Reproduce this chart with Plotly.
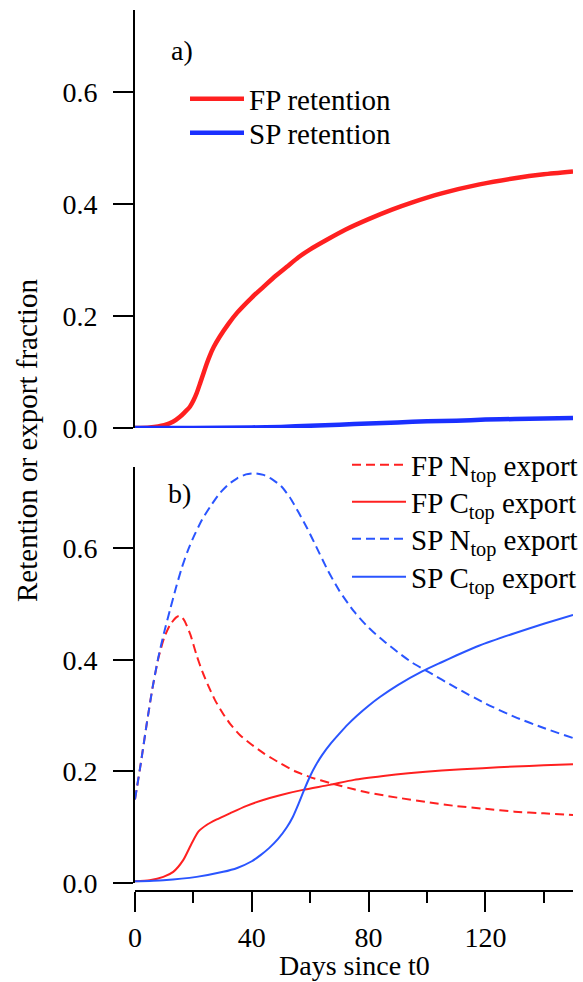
import plotly.graph_objects as go

# ---------------- data ----------------
# panel a) retention
fp_ret_days = [0, 5, 10, 13, 15.4, 17, 18.8, 20, 21.1, 22.3, 23.4, 24.5, 25.6, 27, 29, 32, 35, 40, 44,
               48, 52, 56, 60, 66, 72, 80, 88, 95, 105, 118, 130, 140, 150]
fp_retention = [0, 0.001, 0.005, 0.011, 0.02, 0.028, 0.038, 0.049, 0.062, 0.08, 0.097, 0.114, 0.129,
                0.145, 0.163, 0.186, 0.206, 0.233, 0.252, 0.271, 0.288, 0.305, 0.319, 0.337, 0.354,
                0.373, 0.39, 0.403, 0.419, 0.435, 0.446, 0.453, 0.458]

sp_ret_days = [0, 20, 40, 50, 60, 70, 80, 90, 100, 110, 120, 130, 140, 150]
sp_retention = [0, 0, 0.001, 0.002, 0.004, 0.006, 0.008, 0.010, 0.012, 0.013, 0.015, 0.016, 0.017, 0.018]

# panel b) export
fp_n_days = [0, 2, 4, 6, 8, 10, 12, 14, 15, 16, 17, 19, 21, 23, 25, 27.4, 30, 32.5, 36, 40, 44,
             50, 55, 60, 67, 75, 80, 90, 100, 110, 120, 130, 140, 150]
fp_n_export = [0.15, 0.215, 0.285, 0.35, 0.403, 0.44, 0.463, 0.476, 0.479, 0.477, 0.47,
               0.445, 0.41, 0.38, 0.355, 0.328, 0.305, 0.286, 0.265, 0.248, 0.233, 0.214, 0.2, 0.19, 0.179,
               0.168, 0.162, 0.153, 0.145, 0.138, 0.133, 0.128, 0.125, 0.122]

fp_c_days = [0, 5, 9.7, 13.1, 16.5, 19.4, 21.7, 24.5, 28, 32.5, 38, 43.9, 50, 57.5, 66.7, 75, 85, 93.6,
             105, 119, 130, 140, 150]
fp_c_export = [0.003, 0.005, 0.011, 0.02, 0.041, 0.071, 0.092, 0.104, 0.114, 0.125, 0.138, 0.149, 0.158,
               0.167, 0.176, 0.185, 0.192, 0.197, 0.202, 0.206, 0.209, 0.211, 0.213]

sp_n_days = [0, 2, 4, 6, 8, 10, 12, 14, 16, 18, 20, 23, 26, 29, 32, 35, 38, 41, 44, 47, 50, 53,
             56, 59, 62, 66, 70, 75, 80, 85, 90, 95, 100, 110, 120, 130, 140, 150]
sp_n_export = [0.15, 0.215, 0.285, 0.35, 0.405, 0.45, 0.49, 0.529, 0.565, 0.595, 0.62,
               0.652, 0.677, 0.699, 0.715, 0.726, 0.733, 0.735, 0.732, 0.724, 0.712, 0.692, 0.665,
               0.636, 0.604, 0.561, 0.524, 0.487, 0.458, 0.435, 0.414, 0.395, 0.38, 0.35, 0.322,
               0.298, 0.278, 0.26]

sp_c_days = [0, 9.7, 21.1, 30.2, 35, 40, 43, 46, 49, 52, 54, 56, 58, 60, 62, 64, 67, 70, 73, 76, 80,
             84, 90, 98.5, 105, 110, 118, 130, 140, 150]
sp_c_export = [0.003, 0.005, 0.011, 0.02, 0.027, 0.039, 0.05, 0.063, 0.079, 0.1, 0.118, 0.142, 0.168,
               0.192, 0.212, 0.229, 0.25, 0.268, 0.285, 0.3, 0.318, 0.334, 0.355, 0.38, 0.396, 0.408,
               0.426, 0.448, 0.465, 0.481]

x_ticks = [0, 40, 80, 120]
x_minor_ticks = [20, 60, 100, 140]
y_ticks = [0, 0.2, 0.4, 0.6]
y_ticklabels = ["0.0", "0.2", "0.4", "0.6"]

RED = "#ff2020"
BLUE_A = "#1a30ff"
BLUE_B = "#2a55ff"
FONT = "Liberation Serif, Times New Roman, serif"
FS = 28
FS_LEG = 29

W, H = 583, 982
def px_x(p):
    return p / W
def px_y(p):
    return 1 - p / H

fig = go.Figure()

spl = dict(shape="spline", smoothing=0.6)
traces = [
    (fp_ret_days, fp_retention, "FP retention", dict(color=RED, width=4.5), "y", "legend"),
    (sp_ret_days, sp_retention, "SP retention", dict(color=BLUE_A, width=4.5), "y", "legend2"),
    (fp_n_days, fp_n_export, "FP N<sub>top</sub> export", dict(color=RED, width=2, dash="9px,5px"), "y2", "legend3"),
    (fp_c_days, fp_c_export, "FP C<sub>top</sub> export", dict(color=RED, width=2), "y2", "legend4"),
    (sp_n_days, sp_n_export, "SP N<sub>top</sub> export", dict(color=BLUE_B, width=2, dash="9px,5px"), "y2", "legend5"),
    (sp_c_days, sp_c_export, "SP C<sub>top</sub> export", dict(color=BLUE_B, width=2), "y2", "legend6"),
]
for xs, ys, name, ln, yax, leg in traces:
    fig.add_trace(go.Scatter(x=xs, y=ys, mode="lines", name=name, line=dict(**ln, **spl),
                             xaxis="x", yaxis=yax, legend=leg, showlegend=True))

axis_font = dict(family=FONT, size=FS, color="black")
yax_common = dict(range=[0, 0.746], showline=True, linecolor="black", linewidth=2,
                  ticks="outside", ticklen=20, tickwidth=2, tickcolor="black",
                  tickvals=y_ticks, ticktext=y_ticklabels, tickfont=axis_font,
                  ticklabelstandoff=10,
                  showgrid=False, zeroline=False, anchor="x", automargin=False)

def leg(xpx, ypx):
    return dict(x=px_x(xpx), y=px_y(ypx), xanchor="left", yanchor="middle",
                bgcolor="rgba(0,0,0,0)", font=dict(family=FONT, size=FS_LEG), itemwidth=54,
                tracegroupgap=0, visible=True)

fig.update_layout(
    width=W, height=H, autosize=False, showlegend=True,
    margin=dict(l=0, r=0, t=0, b=0, autoexpand=False),
    paper_bgcolor="white", plot_bgcolor="white",
    font=dict(family=FONT, size=FS, color="black"),
    xaxis=dict(domain=[px_x(135), px_x(573)], range=[0, 150], anchor="free", position=px_y(891),
               showline=True, linecolor="black", linewidth=2,
               ticks="outside", ticklen=20, tickwidth=2, tickcolor="black",
               tickvals=x_ticks, tickfont=axis_font, ticklabelstandoff=1,
               minor=dict(tickvals=x_minor_ticks, ticks="outside", ticklen=11, tickwidth=2,
                          tickcolor="black", showgrid=False),
               showgrid=False, zeroline=False, automargin=False),
    yaxis=dict(domain=[px_y(428), px_y(428 - 0.746 * 560)], **yax_common),
    yaxis2=dict(domain=[px_y(883), px_y(883 - 0.746 * 557.5)], **yax_common),
    legend=leg(185, 99),
    legend2=leg(185, 133),
    legend3=leg(347, 465),
    legend4=leg(347, 502),
    legend5=leg(347, 539),
    legend6=leg(347, 577),
    annotations=[
        dict(text="a)", x=px_x(169), y=px_y(50), xref="paper", yref="paper", xanchor="left",
             yanchor="middle", showarrow=False, font=axis_font),
        dict(text="b)", x=px_x(166), y=px_y(493), xref="paper", yref="paper", xanchor="left",
             yanchor="middle", showarrow=False, font=axis_font),
        dict(text="Retention or export fraction", x=px_x(27), y=px_y(441), xref="paper", yref="paper",
             xanchor="center", yanchor="middle", textangle=-90, showarrow=False,
             font=dict(family=FONT, size=29, color="black")),
        dict(text="Days since t0", x=px_x(354), y=px_y(965), xref="paper", yref="paper",
             xanchor="center", yanchor="middle", showarrow=False, font=axis_font),
    ],
)

fig.write_html("out.html", config={"displayModeBar": False},
               post_script="document.body.style.margin='0';document.body.style.padding='0';")
